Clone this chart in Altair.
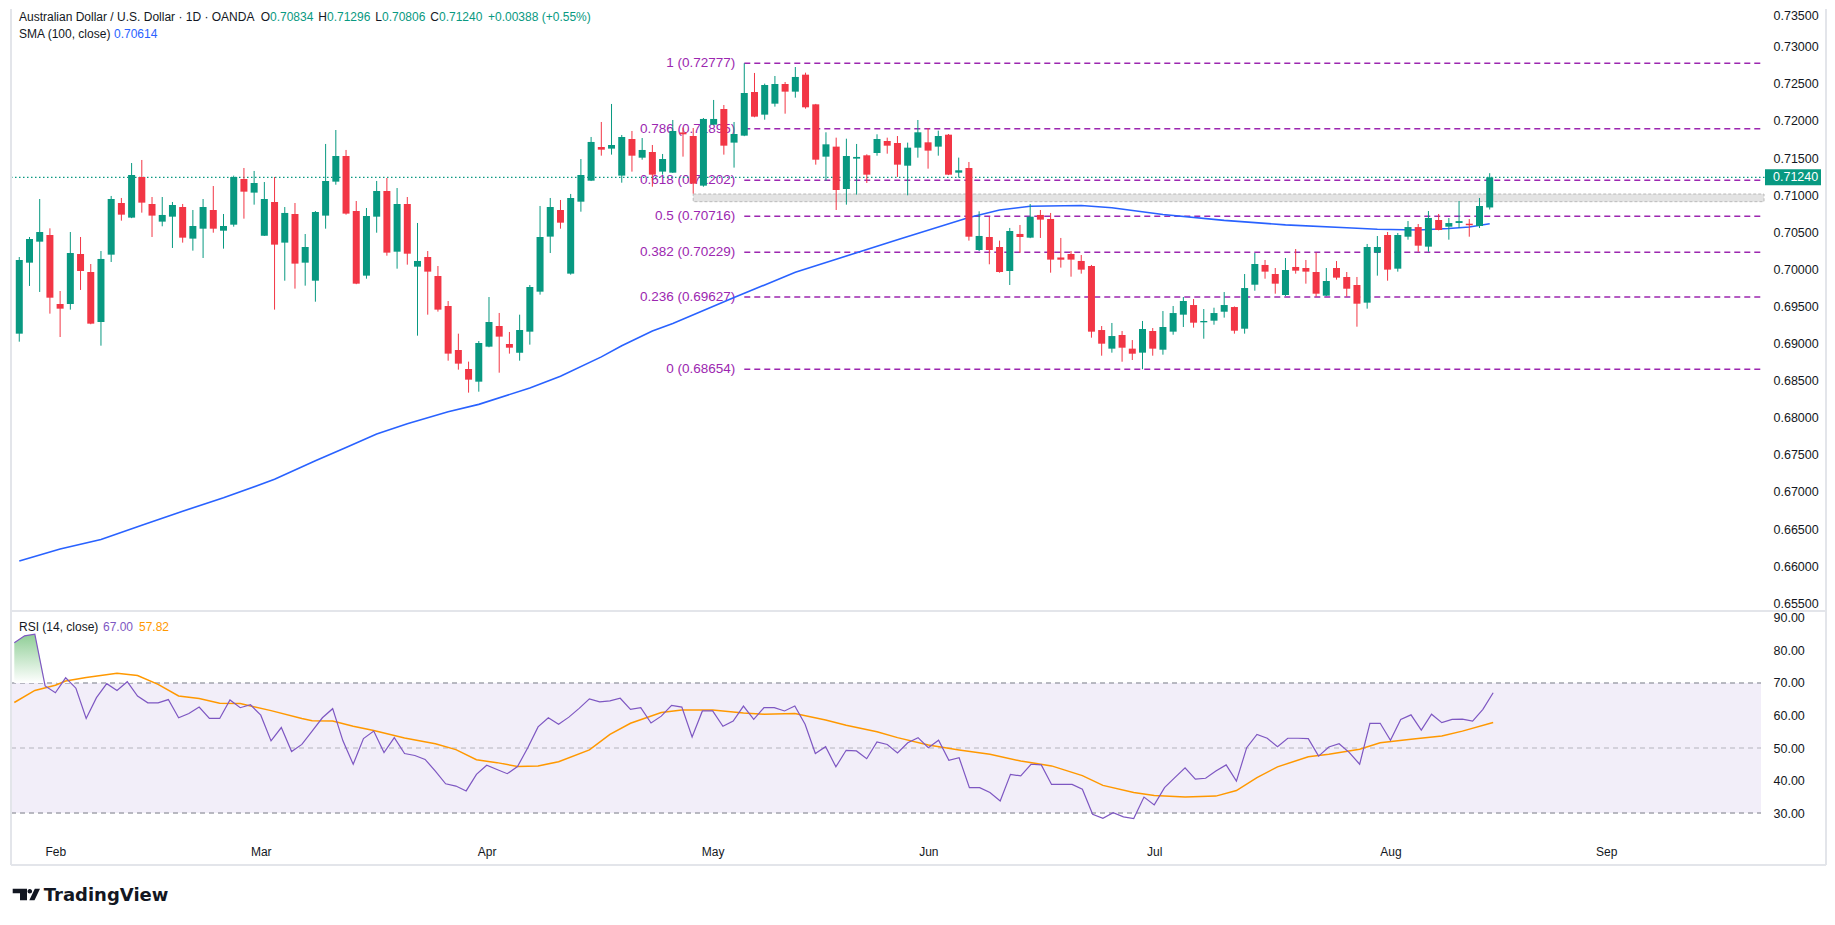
import altair as alt
import pandas as pd

# ---------------- data ----------------
OPEN = [0.69133, 0.70090, 0.70373, 0.70463, 0.69533, 0.69533, 0.70207, 0.69964, 0.69290, 0.70198,
        0.70894, 0.70697, 0.71245, 0.70881, 0.70643, 0.70710, 0.70840, 0.70414, 0.70548, 0.70800,
        0.70521, 0.70602, 0.71218, 0.71034, 0.70454, 0.70908, 0.70360, 0.70746, 0.70090, 0.69847,
        0.70724, 0.71182, 0.71528, 0.70786, 0.69915, 0.70710, 0.71056, 0.70238, 0.70881, 0.70036,
        0.70166, 0.69910, 0.69506, 0.68913, 0.68657, 0.68486, 0.68958, 0.69236, 0.68994, 0.68877,
        0.69160, 0.69699, 0.70441, 0.70800, 0.69942, 0.70912, 0.71195, 0.71649, 0.71627, 0.71263,
        0.71757, 0.71505, 0.71582, 0.71317, 0.71303, 0.71845, 0.71797, 0.71128, 0.71950, 0.72161,
        0.71708, 0.71802, 0.72390, 0.72085, 0.72233, 0.72498, 0.72395, 0.72624, 0.72224, 0.71519,
        0.71654, 0.71083, 0.71492, 0.71537, 0.71568, 0.71730, 0.71703, 0.71397, 0.71640, 0.71712,
        0.71654, 0.71815, 0.71303, 0.71366, 0.70261, 0.70436, 0.70301, 0.69978, 0.70477, 0.70427,
        0.70733, 0.70679, 0.70160, 0.70207, 0.70113, 0.70045, 0.69182, 0.68931, 0.69115, 0.68931,
        0.68877, 0.69169, 0.68917, 0.69160, 0.69389, 0.69519, 0.69286, 0.69308, 0.69429, 0.69492,
        0.69200, 0.69793, 0.70059, 0.69937, 0.69654, 0.70032, 0.70018, 0.69964, 0.69645, 0.70018,
        0.69897, 0.69789, 0.69551, 0.70225, 0.70463, 0.70009, 0.70440, 0.70570, 0.70306, 0.70665,
        0.70575, 0.70625, 0.70615, 0.70584, 0.70834]
HIGH = [0.70166, 0.70436, 0.70948, 0.70553, 0.69708, 0.70503, 0.70436, 0.70072, 0.70247, 0.70989,
        0.70962, 0.71433, 0.71474, 0.70975, 0.70975, 0.70908, 0.70881, 0.70800, 0.70948, 0.71123,
        0.70746, 0.71263, 0.71366, 0.71326, 0.71177, 0.71245, 0.70840, 0.70894, 0.70476, 0.70786,
        0.71690, 0.71878, 0.71609, 0.70921, 0.70827, 0.71191, 0.71231, 0.71096, 0.70975, 0.70625,
        0.70247, 0.70045, 0.69573, 0.69133, 0.68756, 0.69034, 0.69627, 0.69412, 0.69156, 0.69389,
        0.69789, 0.70854, 0.70962, 0.70935, 0.71016, 0.71487, 0.71784, 0.71986, 0.72229, 0.71811,
        0.71865, 0.71770, 0.71676, 0.71555, 0.72013, 0.71910, 0.71905, 0.72040, 0.72283, 0.72215,
        0.71986, 0.72777, 0.72647, 0.72503, 0.72606, 0.72525, 0.72727, 0.72651, 0.72230, 0.71847,
        0.71775, 0.71761, 0.71690, 0.71550, 0.71820, 0.71775, 0.71797, 0.71708, 0.72013, 0.71905,
        0.71869, 0.71824, 0.71506, 0.71447, 0.70782, 0.70706, 0.70387, 0.70558, 0.70598, 0.70881,
        0.70800, 0.70760, 0.70423, 0.70247, 0.70193, 0.70059, 0.69236, 0.69277, 0.69169, 0.69047,
        0.69304, 0.69209, 0.69438, 0.69506, 0.69627, 0.69600, 0.69465, 0.69483, 0.69694, 0.69500,
        0.69937, 0.70220, 0.70126, 0.70018, 0.70153, 0.70274, 0.70126, 0.70225, 0.70018, 0.70112,
        0.69964, 0.69897, 0.70342, 0.70449, 0.70503, 0.70490, 0.70651, 0.70611, 0.70786, 0.70746,
        0.70692, 0.70921, 0.70678, 0.70962, 0.71296]
LOW = [0.69025, 0.69776, 0.69695, 0.69403, 0.69088, 0.69457, 0.69722, 0.69260, 0.68971, 0.70099,
       0.70656, 0.70690, 0.70764, 0.70436, 0.70580, 0.70288, 0.70360, 0.70252, 0.70153, 0.70494,
       0.70279, 0.70575, 0.70683, 0.70872, 0.70450, 0.69457, 0.69847, 0.69740, 0.69780, 0.69564,
       0.70548, 0.71141, 0.70737, 0.69800, 0.69874, 0.70494, 0.70184, 0.70009, 0.70063, 0.69106,
       0.69389, 0.69430, 0.68769, 0.68648, 0.68338, 0.68351, 0.68950, 0.68607, 0.68864, 0.68769,
       0.68985, 0.69659, 0.70220, 0.70548, 0.69928, 0.70777, 0.71190, 0.71532, 0.71546, 0.71168,
       0.71317, 0.71478, 0.71114, 0.71276, 0.71300, 0.71519, 0.71020, 0.71114, 0.71945, 0.71546,
       0.71371, 0.71795, 0.72050, 0.72017, 0.72193, 0.72098, 0.72314, 0.72166, 0.71411, 0.71195,
       0.70800, 0.70872, 0.71007, 0.71164, 0.71532, 0.71559, 0.71245, 0.70998, 0.71505, 0.71357,
       0.71532, 0.71270, 0.71236, 0.70387, 0.70247, 0.70068, 0.69955, 0.69789, 0.70225, 0.70420,
       0.70423, 0.69955, 0.70023, 0.69901, 0.69942, 0.69079, 0.68836, 0.68877, 0.68755, 0.68778,
       0.68654, 0.68836, 0.68850, 0.69119, 0.69223, 0.69214, 0.69065, 0.69254, 0.69349, 0.69133,
       0.69133, 0.69712, 0.69874, 0.69672, 0.69641, 0.69942, 0.69807, 0.69632, 0.69640, 0.69861,
       0.69632, 0.69227, 0.69470, 0.69915, 0.69847, 0.69969, 0.70400, 0.70238, 0.70238, 0.70525,
       0.70400, 0.70557, 0.70440, 0.70557, 0.70806]
CLOSE = [0.70126, 0.70409, 0.70503, 0.69618, 0.69470, 0.70220, 0.69978, 0.69268, 0.70140, 0.70948,
         0.70737, 0.71272, 0.70899, 0.70724, 0.70733, 0.70867, 0.70427, 0.70584, 0.70840, 0.70548,
         0.70584, 0.71245, 0.71047, 0.71164, 0.70948, 0.70333, 0.70760, 0.70077, 0.70301, 0.70773,
         0.71191, 0.71528, 0.70751, 0.69807, 0.70719, 0.71056, 0.70225, 0.70881, 0.70211, 0.70113,
         0.69969, 0.69457, 0.68864, 0.68729, 0.68513, 0.69007, 0.69290, 0.69093, 0.68944, 0.69183,
         0.69762, 0.70436, 0.70840, 0.70629, 0.70962, 0.71272, 0.71717, 0.71613, 0.71676, 0.71784,
         0.71532, 0.71609, 0.71276, 0.71487, 0.71865, 0.71820, 0.71155, 0.72027, 0.72027, 0.71667,
         0.71824, 0.72377, 0.72058, 0.72485, 0.72498, 0.72395, 0.72593, 0.72184, 0.71478, 0.71685,
         0.71069, 0.71528, 0.71515, 0.71276, 0.71757, 0.71667, 0.71411, 0.71640, 0.71847, 0.71600,
         0.71797, 0.71276, 0.71335, 0.70440, 0.70450, 0.70261, 0.69964, 0.70517, 0.70436, 0.70710,
         0.70670, 0.70131, 0.70130, 0.70131, 0.69996, 0.69160, 0.68998, 0.69101, 0.68944, 0.68863,
         0.69196, 0.68931, 0.69223, 0.69411, 0.69573, 0.69281, 0.69304, 0.69411, 0.69519, 0.69173,
         0.69748, 0.70072, 0.69969, 0.69807, 0.69991, 0.69982, 0.69969, 0.69672, 0.69843, 0.69888,
         0.69739, 0.69537, 0.70301, 0.70301, 0.69996, 0.70463, 0.70570, 0.70319, 0.70692, 0.70530,
         0.70624, 0.70650, 0.70595, 0.70854, 0.71240]

SMA_IDX = [0, 4, 8, 12, 16, 20, 25, 29, 32, 35, 38, 42, 45, 50, 53, 57, 59, 62, 64, 70, 73, 76,
           81, 86, 93, 96, 99, 104, 107, 112, 118, 124, 130, 133, 137, 140, 142, 144]
SMA_VAL = [0.6607, 0.6623, 0.6636, 0.6655, 0.6674, 0.6692, 0.6717, 0.6742, 0.6760, 0.6778, 0.6792,
           0.6808, 0.6818, 0.6840, 0.6856, 0.6882, 0.6897, 0.6917, 0.6927, 0.6962, 0.6979, 0.6996,
           0.7018, 0.7040, 0.7070, 0.7080, 0.7085, 0.7086, 0.7083, 0.7074, 0.7066, 0.7060, 0.7056,
           0.7054, 0.7053, 0.7055, 0.7057, 0.70614]

RSI = [82.4, 84.5, 85.0, 69.1, 67.0, 71.6, 68.4, 59.1, 65.5, 69.8,
       67.7, 70.4, 66.0, 63.9, 63.9, 64.9, 59.3, 60.6, 62.6, 59.1,
       59.1, 64.8, 62.4, 63.3, 60.1, 52.2, 56.3, 48.9, 51.1, 55.2,
       59.3, 62.1, 52.2, 45.0, 52.9, 55.2, 48.6, 53.2, 48.3, 47.7,
       46.5, 42.9, 39.0, 38.3, 36.8, 41.9, 44.7, 43.4, 42.1, 44.3,
       50.1, 56.5, 59.3, 57.3, 59.5, 62.2, 65.1, 64.2, 64.5, 65.3,
       61.9, 62.4, 57.7, 59.8, 63.1, 62.6, 53.4, 61.4, 61.4, 56.7,
       58.3, 62.9, 58.8, 62.4, 62.4, 61.4, 62.9, 57.3, 48.3, 50.4,
       44.2, 49.3, 49.1, 46.7, 51.9, 51.1, 48.5, 51.6, 53.2, 50.1,
       52.4, 46.2, 47.0, 37.8, 37.8, 36.3, 33.7, 41.9, 41.4, 45.0,
       44.8, 38.8, 38.8, 38.8, 37.3, 29.6, 28.4, 30.1, 28.8, 28.3,
       34.9, 32.5, 37.8, 40.9, 43.9, 40.4, 40.7, 42.9, 44.8, 39.8,
       50.1, 54.2, 53.0, 50.4, 53.0, 53.0, 52.9, 47.5, 50.3, 51.3,
       48.6, 45.0, 57.6, 57.6, 52.4, 58.8, 60.2, 55.5, 60.4, 57.8,
       58.8, 58.9, 58.3, 61.9, 67.0]

RSIMA_IDX = [0, 2, 4, 5, 7, 10, 12, 14, 16, 18, 20, 22, 23, 25, 28, 29, 31, 33, 35, 38, 41, 43, 45,
             47, 49, 51, 53, 56, 58, 60, 63, 65, 68, 71, 73, 76, 79, 81, 84, 86, 89, 92, 95, 98,
             101, 104, 106, 109, 111, 114, 117, 119, 121, 123, 126, 128, 131, 133, 136, 139, 141, 144]
RSIMA_VAL = [64.0, 67.7, 69.3, 70.6, 71.7, 73.0, 72.3, 69.6, 66.0, 65.2, 63.8, 63.7, 62.9, 61.5,
             59.1, 58.4, 58.3, 56.7, 55.4, 53.1, 51.3, 49.5, 46.4, 45.5, 44.3, 44.5, 45.8, 49.4,
             54.2, 57.6, 60.9, 61.7, 61.7, 60.8, 60.4, 60.6, 58.6, 57.0, 55.0, 53.2, 50.9, 49.4,
             48.1, 46.0, 44.5, 41.5, 38.5, 36.3, 35.4, 34.9, 35.2, 36.9, 40.9, 44.2, 47.3, 48.1,
             49.6, 51.6, 52.7, 53.7, 55.2, 57.82]

FIB_RATIO = ["1", "0.786", "0.618", "0.5", "0.382", "0.236", "0"]
FIB_PRICE = [0.72777, 0.71895, 0.71202, 0.70716, 0.70229, 0.69627, 0.68654]
FIB_START = 71
ZONE_START = 66
ZONE_LOW = 0.70912
ZONE_HIGH = 0.71015
LAST_PRICE = 0.71240

PRICE_TICKS = [0.655, 0.660, 0.665, 0.670, 0.675, 0.680, 0.685, 0.690, 0.695, 0.700,
               0.705, 0.710, 0.715, 0.720, 0.725, 0.730, 0.735]
RSI_TICKS = [30, 40, 50, 60, 70, 80, 90]
MONTH_IDX = [4, 24, 46, 68, 89, 111, 134, 155]
MONTH_LBL = ["Feb", "Mar", "Apr", "May", "Jun", "Jul", "Aug", "Sep"]

# ---------------- styling ----------------
FONT = "Liberation Sans"
DARK = "#131722"
GREEN = "#089981"
RED = "#f23645"
BLUE = "#2962ff"
FIBC = "#9c27b0"
RSIC = "#7e57c2"
MAC = "#ff9800"
BORDER = "#e3e5ea"

W = 1750
H1 = 602
H2 = 229
X_DOMAIN = [-0.321, 170.08]
P_DOMAIN = [0.65395, 0.73509]
R_DOMAIN = [21.7, 92.15]

ONE = pd.DataFrame({"k": [0]})

XS = alt.Scale(domain=X_DOMAIN, nice=False, zero=False)
PS = alt.Scale(domain=P_DOMAIN, nice=False, zero=False)
RS = alt.Scale(domain=R_DOMAIN, nice=False, zero=False)

P_AXIS = alt.Axis(orient="right", values=PRICE_TICKS, format=".5f", labelFont=FONT,
                  labelFontSize=12.5, labelColor=DARK, labelPadding=12, ticks=False,
                  tickSize=0, domain=False, grid=False, labelFlush=3, labelOverlap=False,
                  title=None)
R_AXIS = alt.Axis(orient="right", values=RSI_TICKS, format=".2f", labelFont=FONT,
                  labelFontSize=12.5, labelColor=DARK, labelPadding=12, ticks=False,
                  tickSize=0, domain=False, grid=False, labelOverlap=False, title=None)
label_expr = "[" + ",".join("'%s'" % m for m in MONTH_LBL) + "][indexof([" + \
    ",".join(str(v) for v in MONTH_IDX) + "], datum.value)]"
X_AXIS = alt.Axis(orient="bottom", values=MONTH_IDX, labelExpr=label_expr, labelFont=FONT,
                  labelFontSize=12, labelColor=DARK, labelPadding=6, ticks=False, tickSize=0,
                  domain=False, grid=False, labelFlush=False, labelOverlap=False, title=None)


def xp(f):
    return alt.X(f, type="quantitative", scale=XS, axis=None, title=None)


def xr(f):
    return alt.X(f, type="quantitative", scale=XS, axis=X_AXIS, title=None)


def yp(f):
    return alt.Y(f, type="quantitative", scale=PS, axis=P_AXIS, title=None)


def yr(f):
    return alt.Y(f, type="quantitative", scale=RS, axis=R_AXIS, title=None)


def txt(s, x, y, color, size=12, align="left", font=FONT, weight="normal", baseline="middle"):
    return alt.Chart(ONE).mark_text(text=s, align=align, baseline=baseline, font=font,
                                    fontSize=size, color=color, fontWeight=weight).encode(
        x=alt.value(x), y=alt.value(y))


def hline(y, x1, x2, color=BORDER, width=2):
    return alt.Chart(ONE).mark_rule(color=color, strokeWidth=width).encode(
        x=alt.value(x1), x2=alt.value(x2), y=alt.value(y))


def vline(x, y1, y2, color=BORDER, width=2):
    return alt.Chart(ONE).mark_rule(color=color, strokeWidth=width).encode(
        x=alt.value(x), y=alt.value(y1), y2=alt.value(y2))


candles = pd.DataFrame({"i": list(range(len(OPEN))), "o": OPEN, "h": HIGH, "l": LOW, "c": CLOSE})
sma = pd.DataFrame({"i": SMA_IDX, "v": SMA_VAL})
fib = pd.DataFrame({"start": [FIB_START] * len(FIB_PRICE), "p": FIB_PRICE,
                    "label": ["%s (%.5f)" % (r, p) for r, p in zip(FIB_RATIO, FIB_PRICE)]})
zone = pd.DataFrame({"i": [ZONE_START], "lo": [ZONE_LOW], "hi": [ZONE_HIGH]})
last = pd.DataFrame({"p": [LAST_PRICE], "t": ["%.5f" % LAST_PRICE]})

cond = alt.condition("datum.c >= datum.o", alt.value(GREEN), alt.value(RED))

zone_l = alt.Chart(zone).mark_rect(fill="#e3e3e3", stroke="#b9b9b9", strokeDash=[3, 2],
                                   strokeWidth=1).encode(
    x=xp("i"), x2=alt.value(W + 3), y=yp("lo"), y2=alt.Y2("hi"))
fib_l = alt.Chart(fib).mark_rule(color=FIBC, strokeDash=[6, 4], strokeWidth=1.5).encode(
    x=xp("start"), x2=alt.value(W), y=yp("p"))
fib_t = alt.Chart(fib).mark_text(align="right", baseline="middle", dx=-9, font=FONT,
                                 fontSize=13.5, color=FIBC).encode(
    x=xp("start"), y=yp("p"), text="label:N")
last_l = alt.Chart(last).mark_rule(color=GREEN, strokeDash=[1.5, 2.5], strokeWidth=1.2).encode(
    x=alt.value(0), x2=alt.value(W + 4), y=yp("p"))
sma_l = alt.Chart(sma).mark_line(color=BLUE, strokeWidth=1.6).encode(x=xp("i"), y=yp("v"))
wick = alt.Chart(candles).mark_rule(strokeWidth=1).encode(
    x=xp("i"), y=yp("l"), y2=alt.Y2("h"), color=cond)
body = alt.Chart(candles).mark_bar(size=7).encode(
    x=xp("i"), y=yp("o"), y2=alt.Y2("c"), color=cond)

BADGE = "M-28,-8H28V8H-28Z"
badge = alt.Chart(last).mark_point(shape=BADGE, filled=True, size=4, color=GREEN, opacity=1,
                                   strokeWidth=0).encode(x=alt.value(W + 32), y=yp("p"))
badge_t = alt.Chart(last).mark_text(align="left", baseline="middle", font=FONT, fontSize=12.5,
                                    color="white").encode(
    x=alt.value(W + 12), y=yp("p"), text="t:N")

L1, L2 = 8.2, 25.2
header = [
    txt("Australian Dollar / U.S. Dollar \u00b7 1D \u00b7 OANDA", 8, L1, DARK),
    txt("O", 259, L1, DARK, align="right"), txt("0.70834", 259, L1, GREEN),
    txt("H", 316, L1, DARK, align="right"), txt("0.71296", 316, L1, GREEN),
    txt("L", 371, L1, DARK, align="right"), txt("0.70806", 371, L1, GREEN),
    txt("C", 428, L1, DARK, align="right"), txt("0.71240", 428, L1, GREEN),
    txt("+0.00388 (+0.55%)", 477, L1, GREEN),
    txt("SMA (100, close)", 8, L2, DARK), txt("0.70614", 103, L2, BLUE),
]

price = alt.layer(
    zone_l, fib_l, fib_t, last_l, sma_l, wick, body, badge, badge_t, *header,
    vline(0, 0, H1), vline(1815, 0, H1),
).properties(width=W, height=H1)

# ---------------- RSI pane ----------------
rsi_df = pd.DataFrame({"i": list(range(len(RSI))), "r": RSI})
rma = pd.DataFrame({"i": RSIMA_IDX, "v": RSIMA_VAL})
band = alt.Chart(pd.DataFrame({"lo": [30], "hi": [70]})).mark_rect(
    color=RSIC, opacity=0.1).encode(x=alt.value(0), x2=alt.value(W), y=yr("lo"), y2=alt.Y2("hi"))
lv = alt.Chart(pd.DataFrame({"v": [70, 30]})).mark_rule(
    color="#787b86", strokeDash=[5, 4], strokeWidth=1).encode(
    x=alt.value(0), x2=alt.value(W), y=yr("v"))
mid = alt.Chart(pd.DataFrame({"v": [50]})).mark_rule(
    color="#787b86", opacity=0.5, strokeDash=[5, 4], strokeWidth=1).encode(
    x=alt.value(0), x2=alt.value(W), y=yr("v"))
grad = alt.Gradient(gradient="linear",
                    stops=[alt.GradientStop(color="#8fce96", offset=0),
                           alt.GradientStop(color="#ffffff", offset=1)],
                    x1=1, x2=1, y1=0, y2=1)
ob = alt.Chart(rsi_df).transform_calculate(ob="max(datum.r, 70)").mark_area(
    color=grad, opacity=1).encode(x=xr("i"), y=yr("ob"), y2=alt.datum(70))
ma_l = alt.Chart(rma).mark_line(color=MAC, strokeWidth=1.5).encode(x=xr("i"), y=yr("v"))
rsi_l = alt.Chart(rsi_df).mark_line(color=RSIC, strokeWidth=1.2).encode(x=xr("i"), y=yr("r"))

LOGO = ("M-13.6,-5.8H0.7V5.8H-6.3V-1.2H-13.6Z "
        "M1.2,-3.3a2.3,2.3 0 1,0 4.6,0a2.3,2.3 0 1,0 -4.6,0Z "
        "M3,5.8L8.2,5.8L13.7,-5.8L8.5,-5.8Z")
logo = alt.Chart(ONE).mark_point(shape=LOGO, filled=True, size=4, color=DARK, opacity=1,
                                 strokeWidth=0).encode(x=alt.value(15.3), y=alt.value(283.5))

R1 = 15.7
rsi = alt.layer(
    band, lv, mid, ob, ma_l, rsi_l,
    txt("RSI (14, close)", 8, R1, DARK), txt("67.00", 92, R1, RSIC), txt("57.82", 128, R1, MAC),
    hline(0, 0, 1815), hline(254, 0, 1815), vline(0, 0, 254), vline(1815, 0, 254),
    logo,
    txt("TradingView", 32.7, 289.5, DARK, size=18, font="DejaVu Sans", weight="bold",
        baseline="alphabetic"),
).properties(width=W, height=H2)

chart = alt.vconcat(price, rsi, spacing=0, bounds="flush").resolve_scale(
    x="independent", y="independent").configure_view(stroke=None).properties(
    padding={"left": 2, "top": 0, "right": 0, "bottom": 0}, background="white")

chart.save("out.html", embed_options={"renderer": "svg", "actions": False})
